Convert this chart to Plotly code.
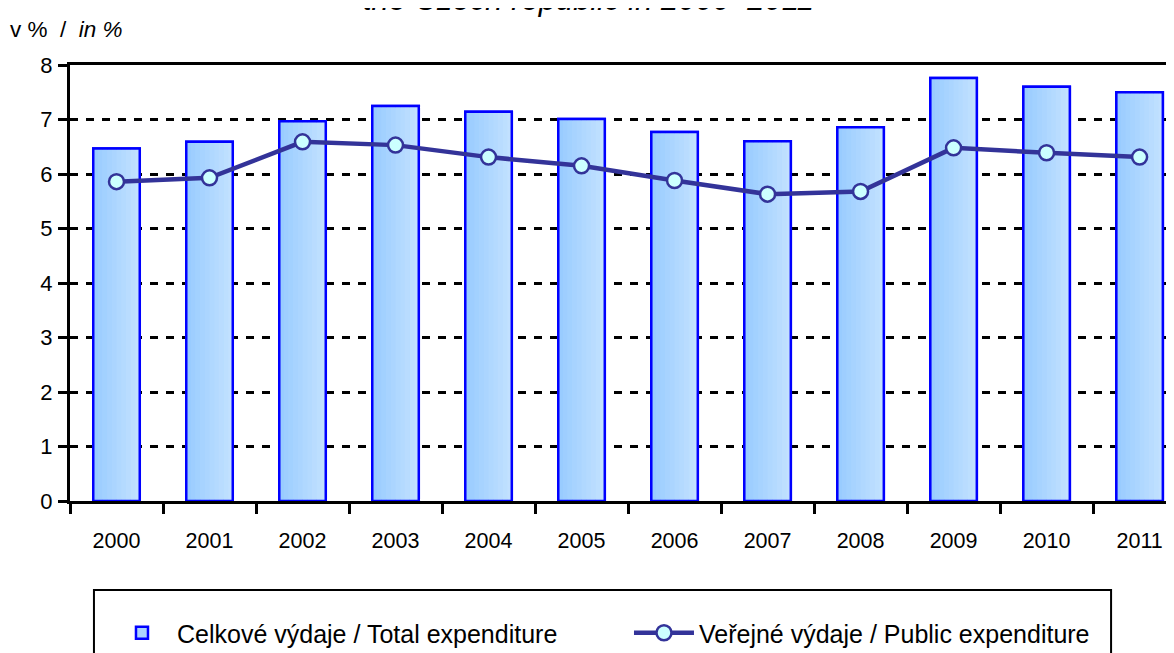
import plotly.graph_objects as go

years = ["2000", "2001", "2002", "2003", "2004", "2005", "2006", "2007", "2008", "2009", "2010", "2011"]
total_expenditure = [6.47, 6.59, 6.97, 7.25, 7.14, 7.01, 6.77, 6.60, 6.86, 7.76, 7.60, 7.50]
public_expenditure = [5.86, 5.93, 6.59, 6.53, 6.31, 6.15, 5.88, 5.63, 5.68, 6.48, 6.39, 6.31]
y_ticks = [0, 1, 2, 3, 4, 5, 6, 7, 8]

name_total = "Celkové výdaje / Total expenditure"
name_public = "Veřejné výdaje / Public expenditure"
title_text = "the Czech republic in 2000–2011"

ARIAL = "Liberation Sans, Arial, sans-serif"
BAR_W = 0.5
N_STRIPES = 10
C0 = (0x99, 0xCC, 0xFF)
C1 = (0xC2, 0xE1, 0xFF)

fig = go.Figure()
# main bar (legend entry)
fig.add_trace(go.Bar(
    x=years, y=total_expenditure, name=name_total, width=BAR_W,
    marker=dict(color="#ADD5FE", line=dict(color="#0000FF", width=2.5)),
    legendrank=1,
))
# horizontal gradient fill emulation
for i in range(N_STRIPES):
    t = i / (N_STRIPES - 1)
    col = "rgb({},{},{})".format(*[round(a + (b - a) * t) for a, b in zip(C0, C1)])
    sw = BAR_W / N_STRIPES
    fig.add_trace(go.Bar(
        x=years, y=total_expenditure, width=sw + 0.002, offset=-BAR_W / 2 + i * sw,
        marker=dict(color=col, line=dict(width=0)),
        showlegend=False, hoverinfo="skip",
    ))
# outline on top
fig.add_trace(go.Bar(
    x=years, y=total_expenditure, width=BAR_W, offset=-BAR_W / 2,
    marker=dict(color="rgba(0,0,0,0)", line=dict(color="#0000FF", width=2.5)),
    showlegend=False, hoverinfo="skip",
))
fig.add_trace(go.Scatter(
    x=years, y=public_expenditure, name=name_public, mode="lines+markers",
    line=dict(color="#333399", width=4.5),
    marker=dict(symbol="circle", size=15, color="#CCFFFF", line=dict(color="#333399", width=2.5)),
    legendrank=2,
))

fig.update_layout(
    width=1174, height=653,
    barmode="overlay",
    margin=dict(l=62, r=8, t=57, b=160, autoexpand=False),
    paper_bgcolor="white", plot_bgcolor="white",
    showlegend=True,
    legend=dict(
        orientation="h", x=0.0335, xanchor="left", y=-0.3028, yanchor="middle",
        font=dict(family=ARIAL, size=25, color="black"),
        bgcolor="rgba(0,0,0,0)", borderwidth=0,
        itemwidth=60,
        entrywidth=447, entrywidthmode="pixels",
    ),
    xaxis=dict(
        type="category", range=[-0.5, 11.37],
        showline=True, linecolor="black", linewidth=3, mirror=True,
        ticks="outside", tickson="boundaries", ticklen=10, tickwidth=2.5, tickcolor="black",
        tickfont=dict(family=ARIAL, size=21.5, color="black"),
        ticklabelstandoff=18, showgrid=False,
    ),
    yaxis=dict(
        range=[0, 8], tickvals=y_ticks,
        showline=True, linecolor="black", linewidth=3,
        ticks="outside", ticklen=9, tickwidth=2.5, tickcolor="black",
        tickfont=dict(family=ARIAL, size=22, color="black"),
        ticklabelstandoff=1,
        showgrid=True, gridcolor="black", gridwidth=2.5, griddash="8px,8px",
        zeroline=False,
    ),
    shapes=[dict(
        type="rect", xref="paper", yref="paper",
        x0=0.0217, x1=0.943, y0=-0.2041, y1=-0.42,
        line=dict(color="black", width=2), fillcolor="rgba(0,0,0,0)", layer="above",
    )],
    annotations=[
        dict(text="v %  /  <i>in %</i>", xref="paper", yref="paper", x=-0.0562, y=1.0803,
             xanchor="left", yanchor="middle", showarrow=False,
             font=dict(family=ARIAL, size=22.5, color="black")),
        dict(text="<i>" + title_text + "</i>", xref="paper", yref="paper", x=0.470, y=1.1055,
             xanchor="center", yanchor="bottom", showarrow=False,
             font=dict(family=ARIAL, size=31, color="black")),
    ],
)

fig.write_html("out.html")
